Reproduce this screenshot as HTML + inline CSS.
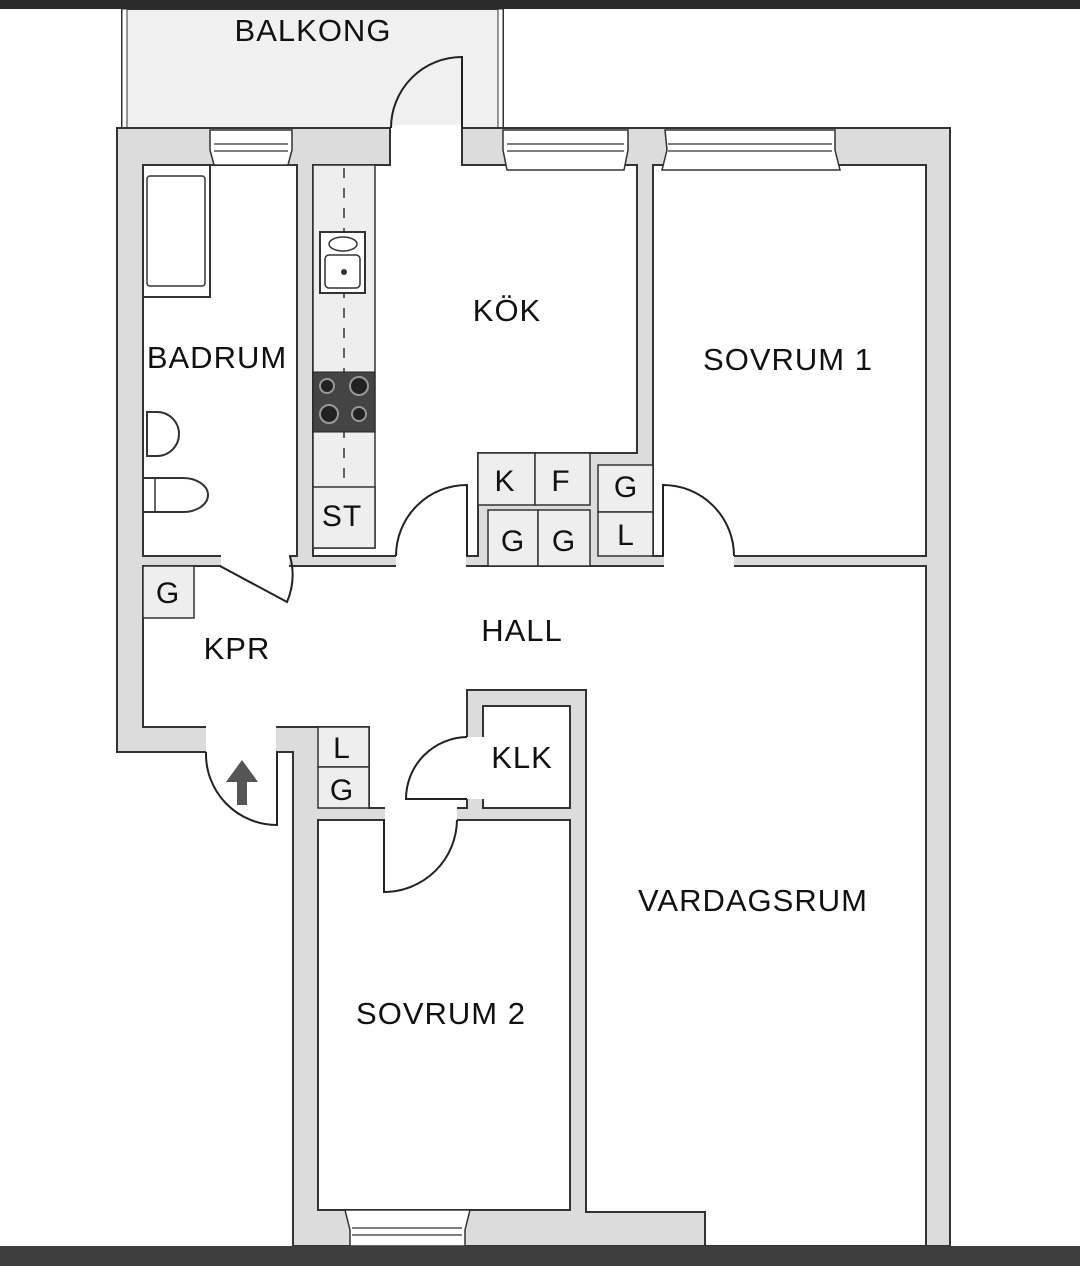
<!DOCTYPE html>
<html><head><meta charset="utf-8"><style>
html,body{margin:0;padding:0;background:#fff;}
svg{display:block;}
text{font-family:"Liberation Sans",sans-serif;font-size:31px;fill:#111;text-anchor:middle;letter-spacing:1px;}
.s{font-size:30px;}
</style></head><body>
<svg width="1080" height="1266" viewBox="0 0 1080 1266" xmlns="http://www.w3.org/2000/svg">
<rect x="0" y="0" width="1080" height="1266" fill="#fff"/>
<!-- balcony -->
<rect x="122" y="9" width="381" height="122" fill="#f0f0f0" stroke="#333" stroke-width="2"/>
<rect x="122" y="9" width="5" height="120" fill="#fff" stroke="#333" stroke-width="1"/>
<rect x="498" y="9" width="5" height="120" fill="#fff" stroke="#333" stroke-width="1"/>
<!-- footprint -->
<polygon points="117,128 950,128 950,1246 293,1246 293,752 117,752" fill="#dcdcdc" stroke="#333" stroke-width="2"/>
<!-- rooms -->
<g fill="#fff" stroke="#333" stroke-width="2">
<rect x="143" y="165" width="154" height="391"/>
<polygon points="313,165 390,165 390,128 462,128 462,165 637,165 637,453 478,453 478,556 313,556"/>
<rect x="653" y="165" width="273" height="391"/>
<polygon points="143,566 926,566 926,1246 705,1246 705,1212 586,1212 586,690 467,690 467,808 369,808 369,727 143,727"/>
<rect x="318" y="820" width="252" height="390"/>
<rect x="483" y="706" width="87" height="102"/>
</g>
<!-- door gaps -->
<g fill="#fff">
<rect x="391" y="125" width="70" height="42"/>
<rect x="396" y="554" width="70" height="14"/>
<rect x="664" y="554" width="70" height="14"/>
<rect x="221" y="554" width="68" height="14"/>
<rect x="206" y="725" width="70" height="29"/>
<rect x="465" y="737" width="20" height="62"/>
<rect x="385" y="806" width="72" height="16"/>
</g>
<!-- closets -->
<g fill="#eee" stroke="#333" stroke-width="1.5">
<rect x="478" y="453" width="57" height="52"/><rect x="535" y="453" width="55" height="52"/>
<rect x="488" y="510" width="50" height="56"/><rect x="538" y="510" width="52" height="56"/>
<rect x="598" y="465" width="55" height="47"/><rect x="598" y="512" width="55" height="44"/>
<rect x="143" y="566" width="51" height="52"/>
<rect x="318" y="727" width="51" height="40"/><rect x="318" y="767" width="51" height="41"/>
<!-- kitchen counter -->
<rect x="313" y="165" width="62" height="383"/>
<rect x="313" y="487" width="62" height="61"/>
</g>
<line x1="344" y1="168" x2="344" y2="485" stroke="#333" stroke-width="1.5" stroke-dasharray="10,10"/>
<rect x="320" y="232" width="45" height="61" fill="#fff" stroke="#333" stroke-width="2"/>
<rect x="325" y="255" width="35" height="33" rx="4" fill="#fff" stroke="#333" stroke-width="1.5"/>
<ellipse cx="343" cy="244" rx="14" ry="7" fill="#fff" stroke="#333" stroke-width="1.5"/>
<circle cx="344" cy="272" r="3" fill="#333"/>
<rect x="313" y="372" width="62" height="60" fill="#444" stroke="#222"/>
<g fill="#222" stroke="#999" stroke-width="2"><circle cx="327" cy="386" r="7"/><circle cx="359" cy="386" r="9"/><circle cx="329" cy="414" r="9"/><circle cx="359" cy="414" r="7"/></g>
<!-- bath fixtures -->
<rect x="143" y="165" width="67" height="132" fill="#fff" stroke="#333" stroke-width="2"/>
<rect x="147" y="176" width="58" height="110" rx="3" fill="#fff" stroke="#333" stroke-width="1.5"/>
<path d="M147,412 h10 a22,22 0 1,1 0,44 h-10 z" fill="#fff" stroke="#333" stroke-width="2"/>
<path d="M143,478 h40 a25,17 0 1,1 0,34 h-40 z" fill="#fff" stroke="#333" stroke-width="2"/>
<line x1="155" y1="478" x2="155" y2="512" stroke="#333" stroke-width="1.5"/>
<!-- windows -->
<g fill="#fff" stroke="#333" stroke-width="1.5">
<polygon points="210,130 292,130 292,150 288,165 214,165 210,150"/>
<polygon points="503,130 628,130 628,150 624,170 507,170 503,150"/>
<polygon points="665,130 835,130 835,150 840,170 662,170 667,150"/>
<polygon points="345,1210 470,1210 465,1230 465,1246 350,1246 350,1230"/>
</g>
<g stroke="#333" stroke-width="1.2" fill="none">
<line x1="214" y1="144" x2="288" y2="144"/><line x1="214" y1="151" x2="288" y2="151"/>
<line x1="507" y1="144" x2="624" y2="144"/><line x1="507" y1="151" x2="624" y2="151"/>
<line x1="668" y1="144" x2="832" y2="144"/><line x1="668" y1="151" x2="832" y2="151"/>
<line x1="352" y1="1228" x2="462" y2="1228"/><line x1="352" y1="1235" x2="462" y2="1235"/>
</g>
<!-- doors -->
<g stroke="#222" stroke-width="2" fill="none">
<path d="M462,128 V57 A71,71 0 0,0 391,128"/>
<path d="M467,556 V485 A71,71 0 0,0 396,556"/>
<path d="M663,556 V485 A71,71 0 0,1 734,556"/>
<path d="M220,566 L287,602 A70,70 0 0,0 290,556"/>
<path d="M277,752 V825 A71,71 0 0,1 206,752"/>
<path d="M467,799 H406 A62,62 0 0,1 467,737"/>
<path d="M384,820 V892 A73,73 0 0,0 457,820"/>
</g>
<!-- arrow -->
<path d="M242,760 L258,782 H247 V805 H237 V782 H226 Z" fill="#555"/>
<!-- labels -->
<text x="313" y="41">BALKONG</text>
<text x="507" y="321">KÖK</text>
<text x="788" y="370">SOVRUM 1</text>
<text x="217" y="368">BADRUM</text>
<text x="522" y="641">HALL</text>
<text x="237" y="659">KPR</text>
<text x="522" y="768">KLK</text>
<text x="753" y="911">VARDAGSRUM</text>
<text x="441" y="1024">SOVRUM 2</text>
<g class="s">
<text class="s" x="342" y="526">ST</text>
<text class="s" x="505" y="491">K</text>
<text class="s" x="561" y="491">F</text>
<text class="s" x="513" y="551">G</text>
<text class="s" x="564" y="551">G</text>
<text class="s" x="626" y="497">G</text>
<text class="s" x="626" y="545">L</text>
<text class="s" x="168" y="603">G</text>
<text class="s" x="342" y="758">L</text>
<text class="s" x="342" y="800">G</text>
</g>
<!-- bands -->
<rect x="0" y="0" width="1080" height="9" fill="#2a2a2a"/>
<rect x="0" y="1246" width="1080" height="20" fill="#3e3e3e"/>
</svg>
</body></html>
